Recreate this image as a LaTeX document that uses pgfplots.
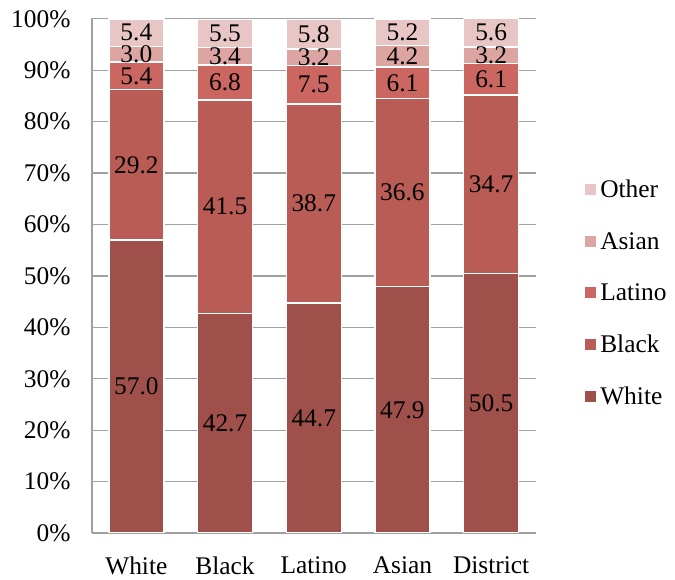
\documentclass[border=0pt]{standalone}
\usepackage{fontspec}
\setmainfont{Liberation Serif}
\usepackage{pgfplots}
\pgfplotsset{compat=1.18}

\definecolor{cWhite}{RGB}{160,80,74}
\definecolor{cBlack}{RGB}{186,92,86}
\definecolor{cLatino}{RGB}{204,102,96}
\definecolor{cAsian}{RGB}{221,165,162}
\definecolor{cOther}{RGB}{232,198,198}
\definecolor{gridgray}{RGB}{160,160,160}

\begin{document}
\begin{tikzpicture}
\useasboundingbox (0bp,0bp) rectangle (675bp,580bp);
\begin{axis}[
  at={(92bp,47bp)}, anchor=south west,
  scale only axis, width=443.5bp, height=515bp,
  ybar stacked, bar width=55bp,
  xmin=-0.5, xmax=4.5, ymin=0, ymax=100.15,
  xtick={0,1,2,3,4},
  xticklabels={White,Black,Latino,Asian,District},
  ytick={0,10,...,100},
  yticklabel={\pgfmathprintnumber{\tick}\%},
  /pgf/number format/assume math mode=true,
  ymajorgrids, grid style={gridgray, line width=1.3bp},
  axis x line*=bottom, axis y line*=left,
  axis line style={gridgray, line width=1.3bp},
  major tick length=0pt,
  tick style={draw=none},
  font=\fontsize{25.5}{29}\selectfont,
  xticklabel style={yshift=-20bp},
  yticklabel style={xshift=-18bp},
  every axis plot/.append style={draw=white, line width=1.5bp},
  point meta=rawy,
  nodes near coords={\pgfmathprintnumber[fixed,fixed zerofill,precision=1]{\pgfplotspointmeta}},
  every node near coord/.append style={anchor=center, black, inner sep=0pt,
    font=\fontsize{25.5}{29}\selectfont},
  reverse legend,
  legend style={draw=none, fill=none, at={(1.105,0.693)}, anchor=north west,
    row sep=29bp, font=\fontsize{25.5}{29}\selectfont,
    nodes={inner xsep=4bp}},
  legend cell align=left,
  legend image code/.code={\fill[#1, draw=none] (0bp,-5.5bp) rectangle (11bp,5.5bp);},
]
\addplot[fill=cWhite] coordinates {(0,57.0) (1,42.7) (2,44.7) (3,47.9) (4,50.5)};
\addplot[fill=cBlack] coordinates {(0,29.2) (1,41.5) (2,38.7) (3,36.6) (4,34.7)};
\addplot[fill=cLatino] coordinates {(0,5.4) (1,6.8) (2,7.5) (3,6.1) (4,6.1)};
\addplot[fill=cAsian] coordinates {(0,3.0) (1,3.4) (2,3.2) (3,4.2) (4,3.2)};
\addplot[fill=cOther] coordinates {(0,5.4) (1,5.5) (2,5.8) (3,5.2) (4,5.6)};
\legend{White,Black,Latino,Asian,Other}
\end{axis}
\end{tikzpicture}
\end{document}
